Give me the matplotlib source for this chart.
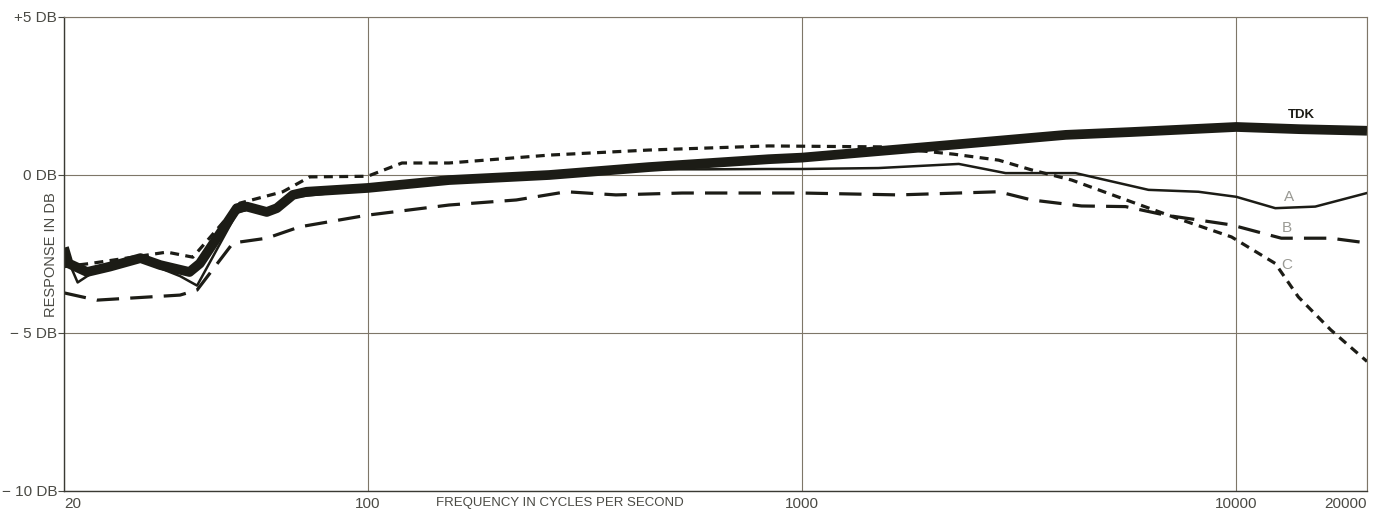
# Frequency response of four cassette tapes (TDK, A, B, C)

import matplotlib
matplotlib.use("Agg")
import matplotlib.pyplot as plt
from matplotlib.ticker import FixedLocator, NullLocator

plt.rcParams['font.family'] = ['Liberation Sans', 'DejaVu Sans']

# values (Hz, dB)
tdk_freq = [20, 20.5, 22.6, 25.5, 30, 33.3, 38.9, 41.1, 50, 52.7, 58.6, 61.8, 67.3, 72.4,
            100, 154, 262, 444, 839, 1000, 1990, 4050, 5740, 10000, 14000, 20000]
tdk_db = [-2.3, -2.8, -3.07, -2.9, -2.63, -2.85, -3.07, -2.8, -1.05, -1.0, -1.17, -1.05, -0.63, -0.53,
          -0.41, -0.16, 0.0, 0.25, 0.5, 0.55, 0.9, 1.27, 1.36, 1.52, 1.45, 1.4]

a_freq = [20, 21.5, 23.8, 30, 37, 40.5, 50, 52.7, 58.6, 67.3, 100, 154, 262, 400, 600, 839,
          1000, 1500, 2297, 2944, 4265, 6280, 8180, 10000, 12300, 15200, 20000]
a_db = [-2.4, -3.4, -3.0, -2.7, -3.2, -3.5, -1.2, -1.1, -1.2, -0.7, -0.45, -0.2, -0.02, 0.18, 0.18, 0.19,
        0.19, 0.22, 0.35, 0.06, 0.06, -0.47, -0.53, -0.69, -1.05, -1.0, -0.57]

b_freq = [20, 23.8, 37, 40.5, 49, 58.6, 69.8, 100, 154, 220, 287, 373, 530, 1000, 1670,
          2838, 3381, 4403, 5560, 6870, 9750, 12700, 16500, 20000]
b_db = [-3.73, -3.96, -3.8, -3.64, -2.15, -2.0, -1.64, -1.27, -0.95, -0.79, -0.53, -0.63, -0.57, -0.57, -0.63,
        -0.53, -0.79, -0.98, -1.0, -1.27, -1.58, -2.0, -2.0, -2.15]

c_freq = [20, 23, 34.5, 39.6, 50.8, 63.8, 73.6, 100, 120, 154, 262, 444, 837, 1528, 2233,
          2838, 3381, 4180, 5740, 7480, 9750, 12300, 13900, 16500, 20000]
c_db = [-2.9, -2.8, -2.44, -2.6, -0.89, -0.53, -0.06, -0.04, 0.38, 0.38, 0.63, 0.79, 0.92, 0.89, 0.66,
        0.47, 0.16, -0.16, -0.85, -1.42, -1.96, -2.8, -3.86, -4.9, -5.9]

x_ticks = [20, 100, 1000, 10000, 20000]
y_ticks = [5, 0, -5, -10]
y_labels = ['+5 DB', '0 DB', '\u2212 5 DB', '\u2212 10 DB']

ink = '#1c1c16'
grid_col = '#7e7668'
text_col = '#4a4a44'

fig = plt.figure(figsize=(13.79, 5.12), dpi=100)
ax = fig.add_axes([64 / 1379, 1 - 491 / 512, (1367 - 64) / 1379, (491 - 17) / 512])

ax.plot(b_freq, b_db, color=ink, lw=2.3, dashes=(7, 3.5), solid_capstyle='butt')
ax.plot(c_freq, c_db, color=ink, lw=2.3, dashes=(2.8, 2.0), solid_capstyle='butt')
ax.plot(a_freq, a_db, color=ink, lw=1.8)
ax.plot(tdk_freq, tdk_db, color=ink, lw=7.0, solid_joinstyle='round', solid_capstyle='butt')

ax.set_xscale('log')
ax.set_xlim(20, 20000)
ax.set_ylim(-10, 5)

ax.xaxis.set_major_locator(FixedLocator(x_ticks))
ax.xaxis.set_minor_locator(NullLocator())
ax.set_xticklabels([str(t) for t in x_ticks])
ax.set_yticks(y_ticks)
ax.set_yticklabels(y_labels)
ax.tick_params(axis='x', length=0, pad=4, labelsize=11, colors=text_col)
ax.tick_params(axis='y', length=4, width=0.8, pad=1, labelsize=11, colors=text_col)
for lab in ax.get_xticklabels():
    if lab.get_text() == '20':
        lab.set_ha('left')
    elif lab.get_text() == '20000':
        lab.set_ha('right')

ax.grid(True, which='major', color=grid_col, lw=0.8)
for side in ['top', 'right']:
    ax.spines[side].set_color(grid_col)
    ax.spines[side].set_linewidth(0.8)
for side in ['left', 'bottom']:
    ax.spines[side].set_color('#3a3a34')
    ax.spines[side].set_linewidth(1.0)

ax.text(14100, 1.9, 'TDK', fontsize=9.5, fontweight='bold', color=ink, ha='center', va='center')
ax.text(13200, -0.7, 'A', fontsize=11, color='#9a9a94', ha='center', va='center')
ax.text(13100, -1.68, 'B', fontsize=11, color='#9a9a94', ha='center', va='center')
ax.text(13100, -2.85, 'C', fontsize=11, color='#9a9a94', ha='center', va='center')

fig.text(51 / 1379, 1 - 255 / 512, 'RESPONSE IN DB', rotation=90, fontsize=10.5,
         color=text_col, ha='center', va='center')
fig.text(560 / 1379, 1 - 503 / 512, 'FREQUENCY IN CYCLES PER SECOND', fontsize=9.5,
         color=text_col, ha='center', va='center')

fig.savefig('out.png', dpi=100, facecolor='white')
